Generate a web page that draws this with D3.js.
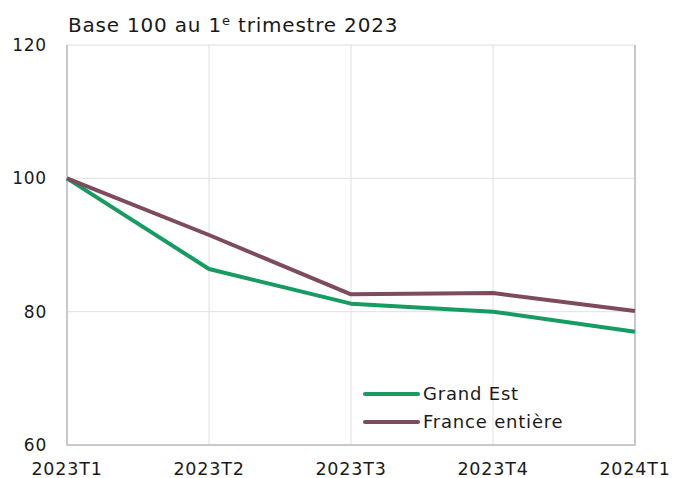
<!DOCTYPE html>
<head>
    <script type="text/javascript" src="https://d3js.org/d3.v7.min.js"></script>
    <style>
        body { margin: 0; background: #fff; }
        .chart text { font-family: "DejaVu Sans", sans-serif; fill: #1a1a1a; letter-spacing: 0.8px; }
    </style>
</head>

<svg class="chart" width="684" height="478"></svg>

<script>
    var categories = ["2023T1", "2023T2", "2023T3", "2023T4", "2024T1"];
    var grandEst = [100, 86.4, 81.2, 80.0, 77.0];
    var franceEntiere = [100, 91.5, 82.6, 82.8, 80.1];
    var yTicks = [60, 80, 100, 120];
    var seriesNames = ["Grand Est", "France entière"];
    var colors = ["#169b62", "#7d4b5d"];

    var plotLeft = 67, plotRight = 635, plotTop = 45, plotBottom = 445;

    var svg = d3.select(".chart");

    var x = d3.scalePoint()
        .domain(categories)
        .range([plotLeft, plotRight]);

    var y = d3.scaleLinear()
        .domain([60, 120])
        .range([plotBottom, plotTop]);

    // grid
    svg.append("g").selectAll("line")
        .data(yTicks)
        .enter().append("line")
        .attr("x1", plotLeft).attr("x2", plotRight)
        .attr("y1", function(d) { return y(d); })
        .attr("y2", function(d) { return y(d); })
        .attr("stroke", "#e0e0e0").attr("stroke-width", 1);

    svg.append("g").selectAll("line")
        .data(categories)
        .enter().append("line")
        .attr("x1", function(d) { return x(d); })
        .attr("x2", function(d) { return x(d); })
        .attr("y1", plotTop).attr("y2", plotBottom)
        .attr("stroke", "#e0e0e0").attr("stroke-width", 1);

    // frame (left, bottom, right)
    svg.append("path")
        .attr("d", "M" + plotLeft + "," + plotTop + "V" + plotBottom + "H" + plotRight + "V" + plotTop)
        .attr("fill", "none")
        .attr("stroke", "#bdbdbd")
        .attr("stroke-width", 1.5);

    // y labels
    svg.append("g").selectAll("text")
        .data(yTicks)
        .enter().append("text")
        .attr("x", 47)
        .attr("y", function(d) { return y(d); })
        .attr("dy", "0.35em")
        .attr("text-anchor", "end")
        .style("font-size", "17px")
        .text(function(d) { return d; });

    // x labels
    svg.append("g").selectAll("text")
        .data(categories)
        .enter().append("text")
        .attr("x", function(d) { return x(d); })
        .attr("y", 475)
        .attr("text-anchor", "middle")
        .style("font-size", "17.5px")
        .text(function(d) { return d; });

    // title
    var title = svg.append("text")
        .attr("x", 68)
        .attr("y", 32)
        .style("font-size", "20px");
    title.append("tspan").text("Base 100 au 1");
    title.append("tspan").attr("dy", -7).style("font-size", "13px").text("e");
    title.append("tspan").attr("dy", 7).text(" trimestre 2023");

    // lines
    var line = d3.line()
        .x(function(d, i) { return x(categories[i]); })
        .y(function(d) { return y(d); });

    [grandEst, franceEntiere].forEach(function(s, i) {
        svg.append("path")
            .datum(s)
            .attr("d", line)
            .attr("fill", "none")
            .attr("stroke", colors[i])
            .attr("stroke-width", 4)
            .attr("stroke-linejoin", "round");
    });

    // legend
    var legend = svg.append("g").selectAll("g")
        .data(seriesNames)
        .enter().append("g")
        .attr("transform", function(d, i) { return "translate(365," + (394 + i * 28) + ")"; });

    legend.append("line")
        .attr("x1", 0).attr("x2", 53)
        .attr("stroke", function(d, i) { return colors[i]; })
        .attr("stroke-width", 4)
        .attr("stroke-linecap", "round");

    legend.append("text")
        .attr("x", 58)
        .attr("dy", "0.35em")
        .style("font-size", "18px")
        .text(function(d) { return d; });
</script>
